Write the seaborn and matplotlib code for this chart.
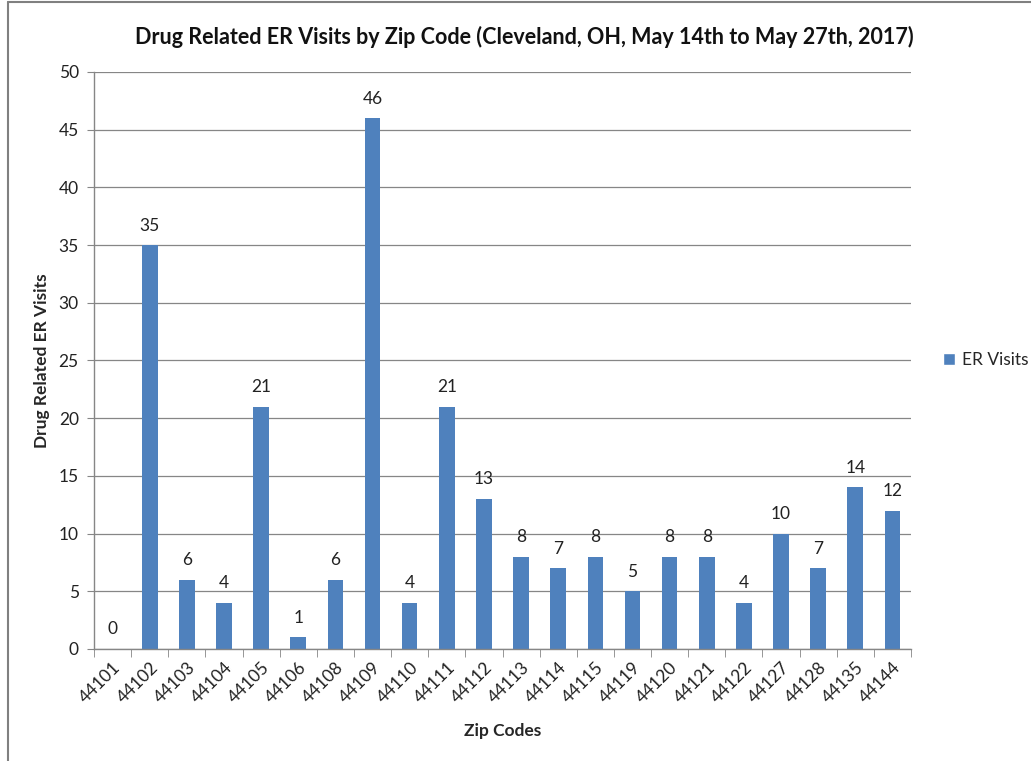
import numpy as np
import pandas as pd
import matplotlib
matplotlib.use("Agg")
import matplotlib.pyplot as plt
import seaborn as sns
from matplotlib.lines import Line2D
from matplotlib.patches import Patch

# chart data
zip_codes = ["44101", "44102", "44103", "44104", "44105", "44106", "44108", "44109",
             "44110", "44111", "44112", "44113", "44114", "44115", "44119", "44120",
             "44121", "44122", "44127", "44128", "44135", "44144"]
er_visits = [0, 35, 6, 4, 21, 1, 6, 46, 4, 21, 13, 8, 7, 8, 5, 8, 8, 4, 10, 7, 14, 12]
y_ticks = [0, 5, 10, 15, 20, 25, 30, 35, 40, 45, 50]

df = pd.DataFrame({"zip": zip_codes, "visits": er_visits})

sns.set_style("white")
plt.rcParams["font.family"] = ["Lato", "DejaVu Sans"]

bar_color = "#4F81BD"
grid_color = "#868686"

fig = plt.figure(figsize=(10.31, 7.61), dpi=100)
ax = fig.add_axes([0.0912, 0.1472, 0.7924, 0.7582])

sns.barplot(data=df, x="zip", y="visits", color=bar_color, width=0.42,
            saturation=1, linewidth=0, ax=ax)

# value labels above bars
for i, v in enumerate(er_visits):
    ax.text(i, v + 1.0, str(v), ha="center", va="bottom", fontsize=12.5, color="#222222")

ax.set_xlim(-0.5, len(zip_codes) - 0.5)
ax.set_ylim(0, 50)
ax.set_yticks(y_ticks)
ax.yaxis.grid(True, color=grid_color, linewidth=0.9)
ax.set_axisbelow(True)

for s in ["top", "right"]:
    ax.spines[s].set_visible(False)
for s in ["left", "bottom"]:
    ax.spines[s].set_color(grid_color)
    ax.spines[s].set_linewidth(1.0)

# tick marks: y on the left, x between categories
ax.tick_params(axis="y", which="major", left=True, length=5, color=grid_color,
               labelsize=12.5, labelcolor="#222222", pad=6)
ax.tick_params(axis="x", which="major", bottom=False, labelsize=12.5,
               labelcolor="#222222", pad=4)
ax.set_xticks(np.arange(-0.5, len(zip_codes), 1.0), minor=True)
ax.tick_params(axis="x", which="minor", bottom=True, length=6, color=grid_color)
plt.setp(ax.get_xticklabels(), rotation=45, ha="right", rotation_mode="anchor")

ax.set_xlabel("Zip Codes", fontsize=12.5, fontweight="bold", labelpad=12)
ax.set_ylabel("Drug Related ER Visits", fontsize=12.5, fontweight="bold", labelpad=6)

fig.text(0.509, 0.952, "Drug Related ER Visits by Zip Code (Cleveland, OH, May 14th to May 27th, 2017)",
         ha="center", va="center", fontsize=15.5, fontweight="bold", color="#111111")

# legend on the right
ax.legend(handles=[Patch(facecolor=bar_color, label="ER Visits")],
          loc="center left", bbox_to_anchor=(1.02, 0.5), frameon=False,
          fontsize=12.5, handlelength=0.7, handleheight=0.7, handletextpad=0.4)

# chart frame (left and top edges visible)
fig.add_artist(Line2D([0.008, 0.008], [0.0, 0.997], transform=fig.transFigure,
                      color="#808080", linewidth=1.5))
fig.add_artist(Line2D([0.008, 1.0], [0.997, 0.997], transform=fig.transFigure,
                      color="#808080", linewidth=1.5))

fig.savefig("out.png", dpi=100)
